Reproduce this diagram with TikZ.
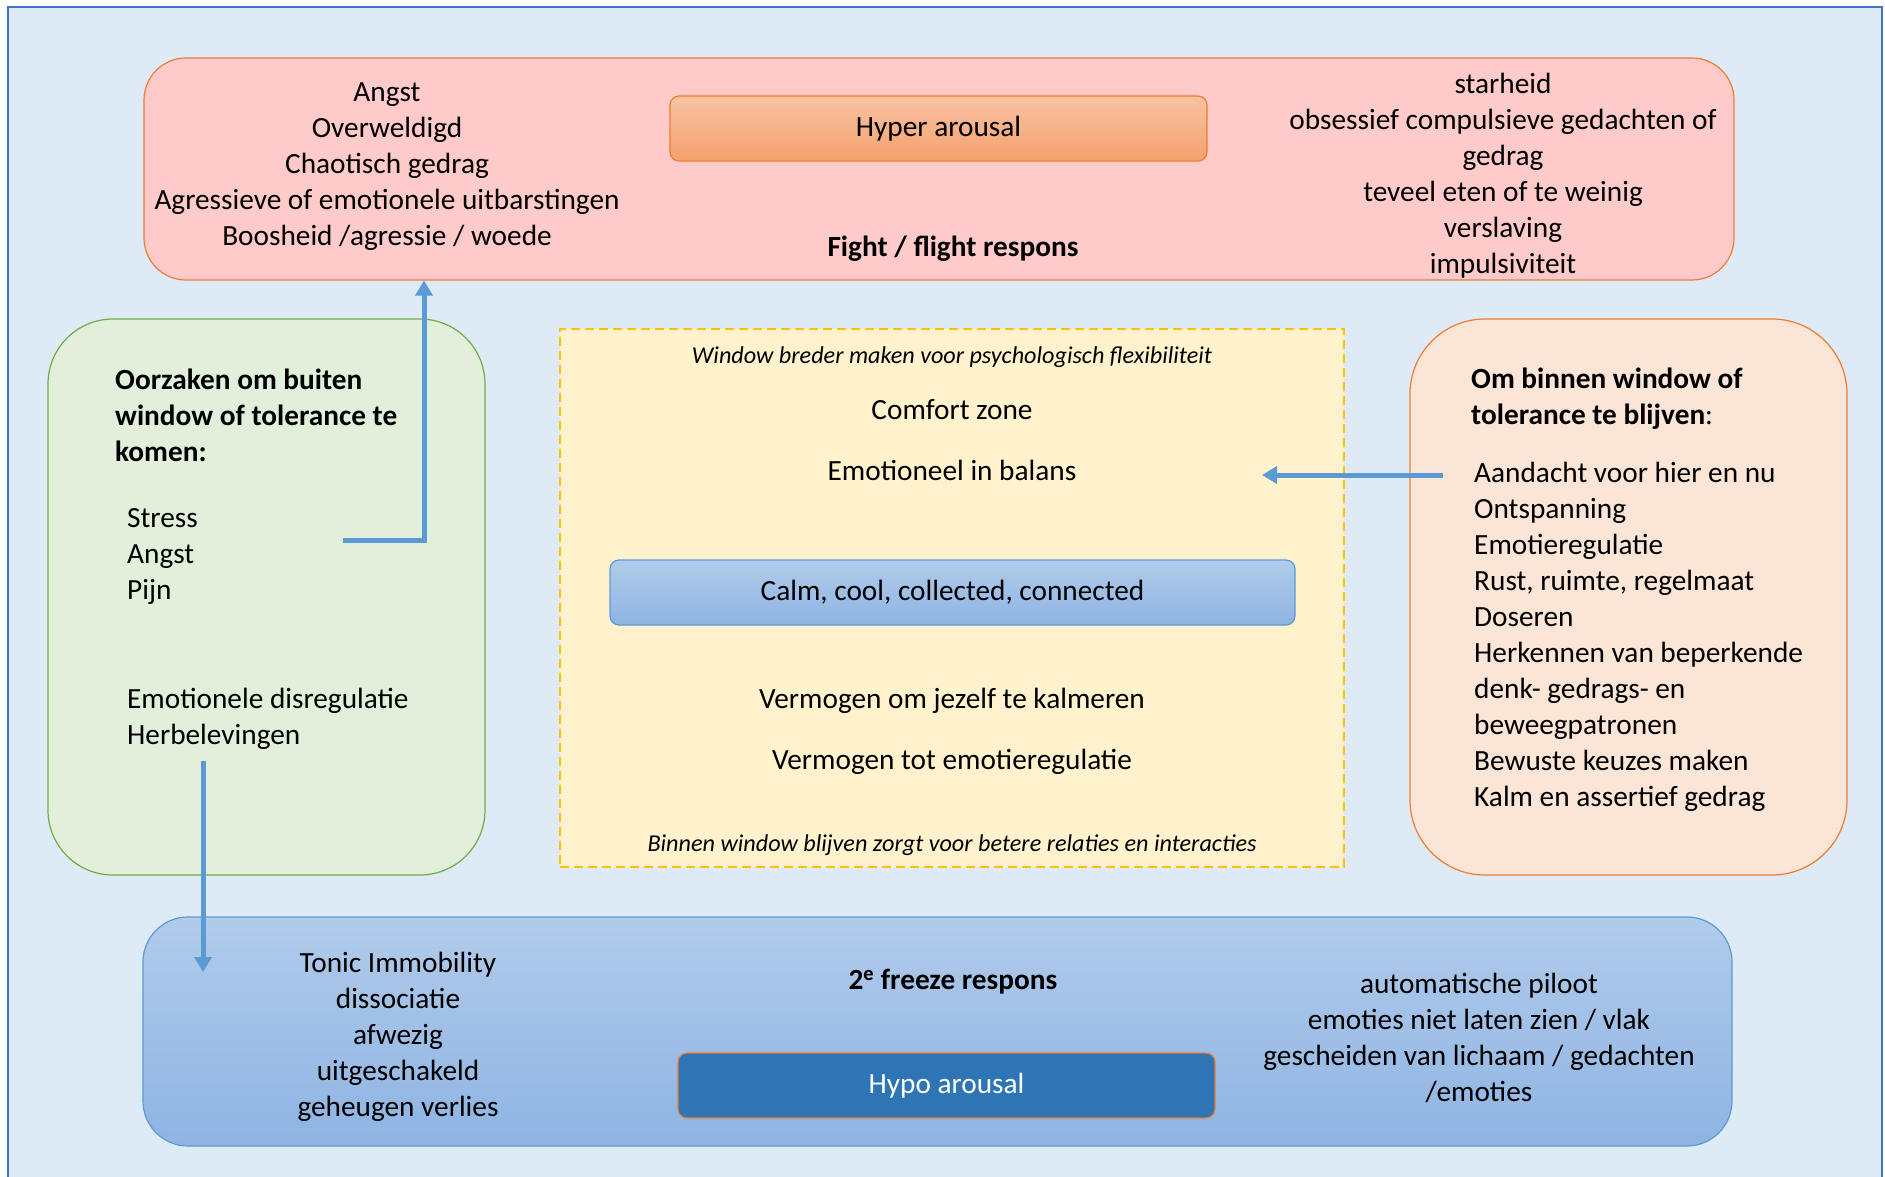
\documentclass[tikz,border=0pt]{standalone}
\usepackage{fontspec}
\setmainfont{Carlito}
\usetikzlibrary{arrows.meta}
\definecolor{bgblue}{HTML}{DEEAF6}
\definecolor{frameblue}{HTML}{4472C4}
\definecolor{orangeline}{HTML}{ED7D31}
\definecolor{hyperfill}{HTML}{FFCACA}
\definecolor{hypertop}{HTML}{F8C3A2}
\definecolor{hyperbot}{HTML}{F4A06E}
\definecolor{greenfill}{HTML}{E2EFDA}
\definecolor{greenline}{HTML}{70AD47}
\definecolor{yellowfill}{HTML}{FFF2CC}
\definecolor{yellowline}{HTML}{FFC000}
\definecolor{peachfill}{HTML}{FBE5D6}
\definecolor{bluetop}{HTML}{B1CBEA}
\definecolor{bluebot}{HTML}{8EB4E3}
\definecolor{blueline}{HTML}{5B9BD5}
\definecolor{hypofill}{HTML}{2E75B6}

\begin{document}
\begin{tikzpicture}[x=1pt,y=-1pt,
  every node/.style={font=\fontsize{29.3}{36}\selectfont,inner sep=0pt},
  zone/.style={rounded corners=#1,line width=1.2pt},
  bar/.style={rounded corners=9pt,line width=1.2pt,minimum width=537pt,minimum height=65pt},
  note/.style={font=\fontsize{24.2}{28}\selectfont\itshape},
  flow/.style={draw=blueline,line width=5pt,-{Triangle[length=15pt,width=17pt]}}]
 \useasboundingbox (0,0) rectangle (1885,1177);
 \draw[fill=bgblue,draw=frameblue,line width=1.5pt] (8,1190) -- (8,7) -- (1882,7) -- (1882,1190);

 % boxes
 \node[zone=42pt,draw=orangeline,fill=hyperfill,minimum width=1590pt,minimum height=222pt] (fight) at (939,169) {};
 \node[bar,draw=orangeline,top color=hypertop,bottom color=hyperbot] (hyper) at (938.5,128.5) {Hyper arousal};
 \node[zone=65pt,draw=greenline,fill=greenfill,minimum width=437pt,minimum height=556pt] (causes) at (266.5,597) {};
 \node[draw=yellowline,fill=yellowfill,dash pattern=on 9pt off 5pt,line width=1.2pt,minimum width=784pt,minimum height=538pt] (window) at (952,598) {};
 \node[bar,draw=blueline,top color=bluetop,bottom color=bluebot,minimum width=685pt] (calm) at (952.5,592.5) {Calm, cool, collected, connected};
 \node[zone=75pt,draw=orangeline,fill=peachfill,minimum width=437pt,minimum height=556pt] (stay) at (1628.5,597) {};
 \node[zone=45pt,draw=blueline,top color=bluetop,bottom color=bluebot,minimum width=1589pt,minimum height=229pt] (freeze) at (937.5,1031.5) {};
 \node[bar,draw=orangeline,fill=hypofill,text=white] (hypo) at (946.5,1085.5) {Hypo arousal};

 % hyper arousal
 \node[align=center] (hyperleft) at (387,166.5) {Angst\\Overweldigd\\Chaotisch gedrag\\Agressieve of emotionele uitbarstingen\\Boosheid /agressie / woede};
 \node[font=\fontsize{29.3}{36}\selectfont\bfseries] (fighttitle) at (953,248.5) {Fight / flight respons};
 \node[align=center] (hyperright) at (1503,175.5) {starheid\\obsessief compulsieve gedachten of\\gedrag\\teveel eten of te weinig\\verslaving\\impulsiviteit};

 % oorzaken
 \node[anchor=west,align=left,font=\fontsize{29.3}{36}\selectfont\bfseries] (causetitle) at (115,415) {Oorzaken om buiten\\window of tolerance te\\komen:};
 \node[anchor=west,align=left] (causeA) at (127,556.5) {Stress\\Angst\\Pijn};
 \node[anchor=west,align=left] (causeB) at (127,718.5) {Emotionele disregulatie\\Herbelevingen};

 % window of tolerance
 \node[note] (widen) at (952,357.5) {Window breder maken voor psychologisch flexibiliteit};
 \node (comfort) at (952,410) {Comfort zone};
 \node (balance) at (952,470) {Emotioneel in balans};
 \node (calmdown) at (952,701) {Vermogen om jezelf te kalmeren};
 \node (regulate) at (952,762) {Vermogen tot emotieregulatie};
 \node[note] (relations) at (952,845) {Binnen window blijven zorgt voor betere relaties en interacties};

 % binnen blijven
 \node[anchor=west,align=left] (staytitle) at (1471,399) {\textbf{Om binnen window of}\\\textbf{tolerance te blijven}:};
 \node[anchor=west,align=left] (staylist) at (1474,637) {Aandacht voor hier en nu\\Ontspanning\\Emotieregulatie\\Rust, ruimte, regelmaat\\Doseren\\Herkennen van beperkende\\denk- gedrags- en\\beweegpatronen\\Bewuste keuzes maken\\Kalm en assertief gedrag};

 % hypo arousal
 \node[align=center] (hypoleft) at (398,1037) {Tonic Immobility\\dissociatie\\afwezig\\uitgeschakeld\\geheugen verlies};
 \node[font=\fontsize{29.3}{36}\selectfont\bfseries] (freezetitle) at (953,981.5) {2\textsuperscript{e} freeze respons};
 \node[align=center] (hyporight) at (1479,1038) {automatische piloot\\emoties niet laten zien / vlak\\gescheiden van lichaam / gedachten\\/emoties};

 % arrows
 \coordinate (upstart) at (343,540);
 \coordinate (upbend) at (424,540);
 \draw[flow] (upstart) -- (upbend) -- (upbend |- fight.south);
 \coordinate (downstart) at (203,761);
 \coordinate (downend) at (203,972);
 \draw[flow] (downstart) -- (downend);
 \coordinate (leftstart) at (1443,475);
 \coordinate (leftend) at (1262,475);
 \draw[flow] (leftstart) -- (leftend);
\end{tikzpicture}
\end{document}
